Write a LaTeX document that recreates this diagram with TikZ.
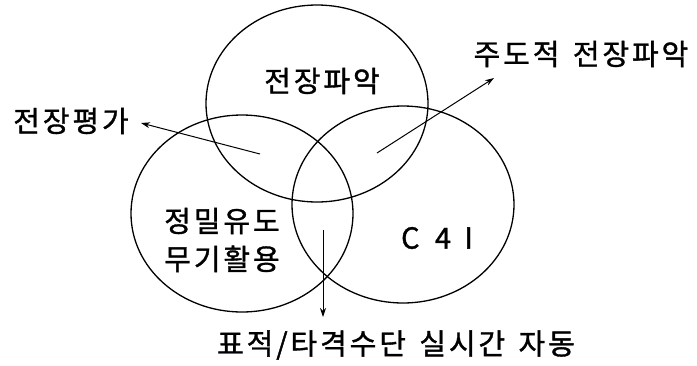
\documentclass[tikz,border=0pt]{standalone}
\usepackage{fontspec}
\usetikzlibrary{shapes.geometric,arrows.meta}
\newfontfamily\kr[LetterSpace=10,FakeBold=1.2]{Noto Sans CJK KR}
\begin{document}
\begin{tikzpicture}[x=1pt,y=-1pt,
  venn/.style={ellipse,draw,line width=1.3pt,minimum width=222pt,minimum height=197pt,inner sep=0pt},
  lbl/.style={font=\kr\fontsize{29}{38}\selectfont,inner sep=0pt,align=center},
  arr/.style={line width=1pt,-{Stealth[length=9pt,width=6pt]}}]
\useasboundingbox (0,0) rectangle (697,365);
\node[venn] (top) at (317,103.5) {};
\node[venn] (left) at (242,213.5) {};
\node[venn] (right) at (403,204.5) {};
\node[lbl] (tp) at (322,81) {전장파악};
\node[lbl] (jd) at (581,54) {주도적\hspace{4pt} 전장파악};
\node[lbl] (pg) at (71,121) {전장평가};
\node[lbl] (jm) at (222,240) {정밀유도\\무기활용};
\node[lbl] (c4i) at (437,238) {C\hspace{6pt} 4\hspace{4pt} I};
\node[lbl] (bt) at (396,345) {표적/타격수단\hspace{4pt} 실시간\hspace{4pt} 자동};
\coordinate (s1) at (260,154);
\coordinate (t1) at (141,123);
\coordinate (s2) at (377,153);
\coordinate (t2) at (494,78);
\coordinate (s3) at (323,230);
\coordinate (t3) at (323,317);
\draw[arr] (s1) -- (t1);
\draw[arr] (s2) -- (t2);
\draw[arr] (s3) -- (t3);
\end{tikzpicture}
\end{document}
